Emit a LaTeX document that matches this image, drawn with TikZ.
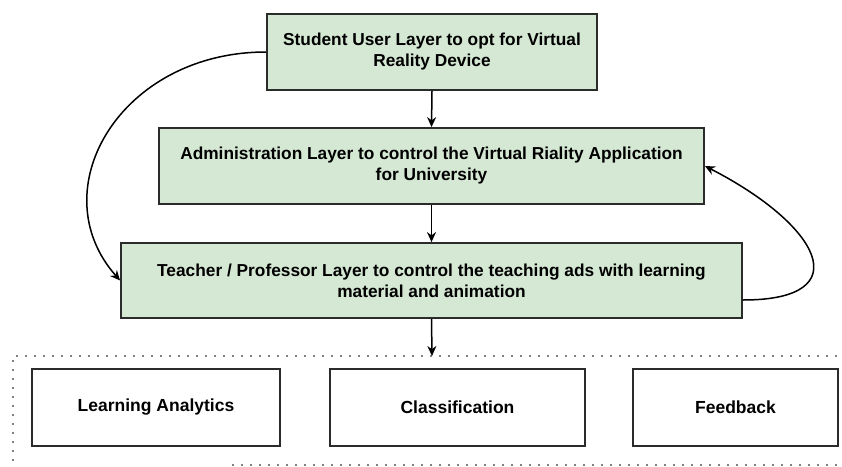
\documentclass[tikz,border=0pt]{standalone}
\usepackage{fontspec}
\setmainfont{Liberation Sans}
\usetikzlibrary{arrows.meta}
\definecolor{layergreen}{HTML}{D5E8D4}
\definecolor{layerline}{HTML}{2B2B2B}

\begin{document}
\begin{tikzpicture}[x=1pt,y=-1pt,
        layer/.style={draw=layerline,fill=layergreen,line width=1.8pt,align=center,
            inner sep=0pt,minimum height=76pt,font=\fontsize{17.3}{21}\selectfont\bfseries},
        outcome/.style={draw=layerline,fill=white,line width=1.8pt,inner sep=0pt,
            minimum height=77pt,font=\fontsize{17.5}{21}\selectfont\bfseries},
        flow/.style={line width=1.5pt,-{Stealth[length=10pt,width=9pt]}},
        dotline/.style={line width=1.8pt,line cap=round,dash pattern=on 0pt off 9pt}]
        \useasboundingbox (0,0) rectangle (842,466);
        % Capas
        \node[layer,minimum width=330pt] (student) at (432,52)
            {Student User Layer to opt for Virtual\\Reality Device};
        \node[layer,minimum width=545pt] (admin) at (431.5,166)
            {Administration Layer to control the Virtual Riality Application\\for University};
        \node[layer,minimum width=621pt,minimum height=75pt] (teacher) at (431.5,280.5)
            {Teacher / Professor Layer to control the teaching ads with learning\\material and animation};
        % Recuadro punteado
        \coordinate (boxtop) at (432,356);
        \draw[dotline] (13,460) -- (13,356) -- (842,356);
        \draw[dotline] (233,465) -- (842,465);
        \node[outcome,minimum width=248pt] (analytics) at (156,407.5) {Learning Analytics};
        \node[outcome,minimum width=255pt] (classif) at (457.5,407.5) {Classification};
        \node[outcome,minimum width=205pt] (feedback) at (735.5,407.5) {Feedback};
        % Flechas
        \draw[flow] (student.south) -- (admin.north);
        \draw[flow] (admin.south) -- (teacher.north);
        \draw[flow] (teacher.south) -- (boxtop);
        \draw[flow] (student.west) .. controls (120,52) and (40,190) .. (teacher.west);
        \draw[flow] (teacher.east |- 0,300) .. controls (860,300) and (820,225) .. (admin.east);
    \end{tikzpicture}
\end{document}
